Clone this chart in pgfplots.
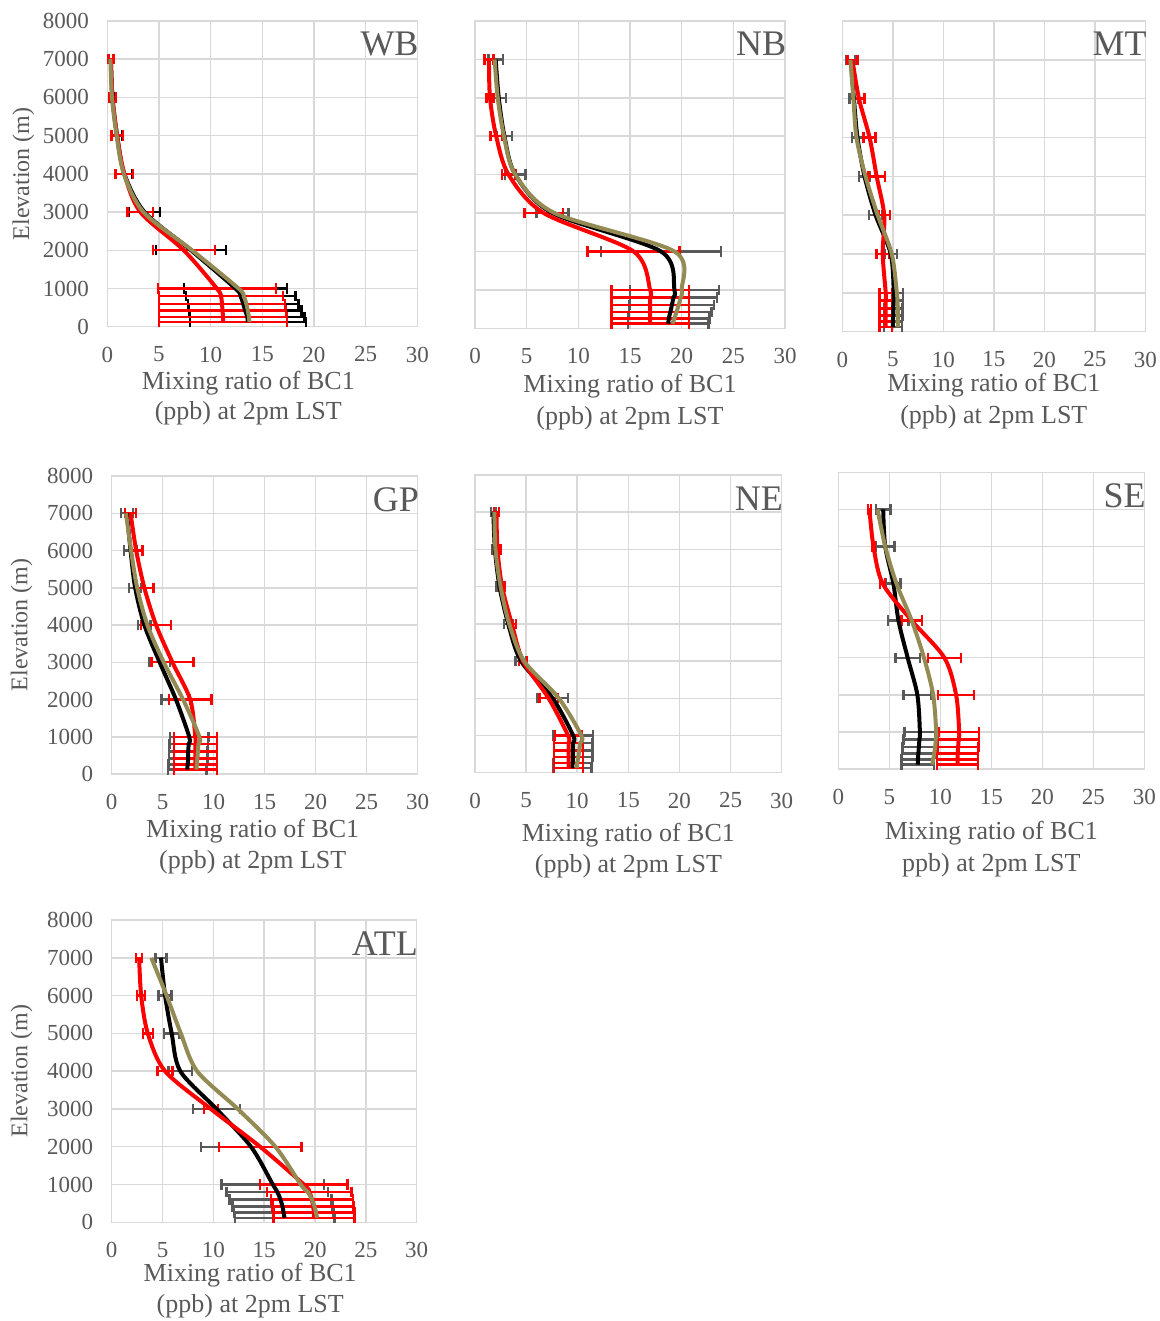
\documentclass[border=0pt]{standalone}
\usepackage{fontspec}
\setmainfont{Liberation Serif}
\usepackage{pgfplots}
\usepackage{pgfplotstable}
\pgfplotsset{compat=1.18}
\definecolor{gridgray}{HTML}{D9D9D9}
\definecolor{txtgray}{HTML}{595959}
\definecolor{tanline}{HTML}{948A54}
\definecolor{errgray}{HTML}{595959}

% columns: elevation, black mean, black sd, red mean, red sd, tan mean
\pgfplotstableread{
y b eb r er t
7000 0.35 0.25 0.35 0.25 0.3
6000 0.5 0.3 0.5 0.35 0.45
5000 0.95 0.5 0.95 0.55 0.9
4000 1.65 0.8 1.65 0.85 1.6
3000 3.6 1.5 3.2 1.25 3.5
2000 8.1 3.4 7.4 3.0 8.2
1000 12.4 5.0 10.6 5.7 12.7
800 12.9 5.3 11.0 6.0 13.2
600 13.15 5.35 11.1 6.1 13.45
420 13.35 5.45 11.15 6.15 13.6
260 13.55 5.55 11.2 6.2 13.7
120 13.6 5.6 11.2 6.2 13.75
}\wb
\pgfplotstableread{
y b eb r er t
7000 2.0 0.7 1.35 0.45 1.9
6000 2.3 0.7 1.45 0.35 2.2
5000 2.85 0.75 2.05 0.55 2.8
4000 3.9 1.0 3.25 0.65 3.9
3000 7.5 1.55 6.65 1.85 7.7
2000 18.0 5.8 15.35 4.45 19.3
1000 19.3 4.3 16.95 3.75 20.0
800 19.2 4.2 16.95 3.75 19.9
600 19.05 4.1 16.95 3.75 19.7
420 18.9 4.0 16.95 3.75 19.5
260 18.75 3.95 16.95 3.75 19.3
120 18.7 3.9 16.95 3.75 19.1
}\nb
\pgfplotstableread{
y b eb r er t
7000 0.85 0.45 1.0 0.5 0.8
6000 1.15 0.45 1.65 0.55 1.1
5000 1.5 0.55 2.7 0.6 1.4
4000 2.2 0.55 3.4 0.8 2.3
3000 3.3 0.65 4.15 0.55 3.5
2000 4.8 0.6 4.0 0.6 4.9
1000 5.1 0.9 4.3 0.6 5.4
800 5.1 0.9 4.3 0.6 5.45
600 5.05 0.9 4.3 0.6 5.5
420 5.05 0.9 4.3 0.6 5.5
260 5.0 0.9 4.3 0.6 5.5
120 5.0 0.9 4.3 0.6 5.5
}\mt
\pgfplotstableread{
y b eb r er t
7000 1.5 0.6 1.85 0.55 1.4
6000 1.85 0.65 2.4 0.6 1.9
5000 2.3 0.6 3.2 0.9 2.5
4000 3.2 0.6 4.35 1.45 3.5
3000 4.7 1.0 5.95 2.05 5.1
2000 6.3 1.4 7.7 2.1 7.0
1000 7.6 1.9 8.2 2.1 8.6
800 7.55 1.9 8.2 2.1 8.5
600 7.5 1.9 8.2 2.1 8.45
420 7.5 1.9 8.2 2.1 8.4
260 7.45 1.9 8.2 2.1 8.35
120 7.4 1.9 8.2 2.1 8.3
}\gp
\pgfplotstableread{
y b eb r er t
7000 1.8 0.25 2.1 0.25 1.9
6000 1.95 0.25 2.2 0.3 2.0
5000 2.4 0.3 2.65 0.3 2.5
4000 3.25 0.4 3.6 0.4 3.35
3000 4.5 0.55 4.7 0.4 4.8
2000 7.6 1.5 7.2 0.9 8.2
1000 9.6 1.95 9.1 1.3 10.4
800 9.6 1.9 9.15 1.4 10.3
600 9.6 1.9 9.15 1.4 10.2
420 9.6 1.9 9.15 1.4 10.1
260 9.55 1.9 9.15 1.4 10.0
120 9.5 1.9 9.15 1.4 10.0
}\ne
\pgfplotstableread{
y b eb r er t
7000 4.4 0.7 3.05 0.15 3.85
6000 4.6 0.9 3.45 0.15 4.6
5000 5.4 0.7 4.35 0.25 5.7
4000 5.9 1.0 7.2 1.0 7.2
3000 6.8 1.2 10.4 1.6 8.4
2000 7.75 1.35 11.55 1.75 9.3
1000 8.0 1.5 11.85 1.95 9.6
800 7.95 1.55 11.8 2.0 9.55
600 7.9 1.6 11.75 2.0 9.5
420 7.85 1.6 11.7 2.0 9.4
260 7.8 1.6 11.7 2.0 9.3
120 7.8 1.6 11.7 2.0 9.2
}\se
\pgfplotstableread{
y b eb r er t
7000 4.85 0.55 2.7 0.3 3.9
6000 5.25 0.65 2.9 0.4 5.4
5000 5.9 0.75 3.55 0.5 6.8
4000 6.75 1.15 5.25 0.75 8.4
3000 10.3 2.3 9.75 0.7 12.4
2000 13.7 4.9 14.6 4.05 16.1
1000 15.85 5.05 18.9 4.3 18.6
800 16.3 5.0 19.45 4.15 19.3
600 16.6 5.0 19.7 4.05 19.7
420 16.8 4.9 19.8 4.0 19.95
260 16.9 4.9 19.9 4.0 20.1
120 17.0 4.9 19.9 4.0 20.2
}\atl

\pgfplotsset{
  panel/.style={
    scale only axis, anchor=north west, clip=false,
    xmin=0, xmax=30, ymin=0, ymax=8000,
    xtick={0,5,...,30}, ytick={0,1000,...,8000},
    grid=major, grid style={draw=gridgray, line width=0.75pt},
    axis line style={draw=gridgray, line width=0.75pt},
    tick style={draw=none},
    scaled y ticks=false,
    /pgf/number format/1000 sep={},
    /pgf/number format/assume math mode=true,
    ticklabel style={font=\fontsize{11.5}{13}\selectfont, text=txtgray},
    xticklabel style={yshift=-6.5pt},
    yticklabel style={xshift=-5.7pt},
  },
  noy/.style={yticklabels={}},
}

\newcommand{\profiles}[2]{%
  \addplot[draw=none, forget plot, error bars/.cd, x dir=both, x explicit,
    error bar style={line width=1.2pt, draw=#2},
    error mark options={rotate=90, line width=1.2pt, mark size=2.6pt, draw=#2}]
    table[x=b, y=y, x error=eb]{#1};
  \addplot[draw=none, forget plot, error bars/.cd, x dir=both, x explicit,
    error bar style={line width=1.2pt, draw=red},
    error mark options={rotate=90, line width=1.2pt, mark size=2.6pt, draw=red}]
    table[x=r, y=y, x error=er]{#1};
  \addplot[black, line width=2pt, smooth] table[x=b, y=y]{#1};
  \addplot[red, line width=2pt, smooth] table[x=r, y=y]{#1};
  \addplot[tanline, line width=2pt, smooth] table[x=t, y=y]{#1};
}
\newcommand{\ptitle}[1]{\node[font=\fontsize{18}{20}\selectfont, text=txtgray, anchor=base east, inner sep=0pt] at ([xshift=0.8pt, yshift=-17.5pt]rel axis cs:1,1) {#1};}
\newcommand{\xlab}[4]{%
  \node[font=\fontsize{13}{15}\selectfont, text=txtgray, anchor=base] at ([xshift=#1, yshift=-#2]rel axis cs:0.5,0) {Mixing ratio of BC1};
  \node[font=\fontsize{13}{15}\selectfont, text=txtgray, anchor=base] at ([xshift=#1, yshift=-#3]rel axis cs:0.5,0) {#4};
}
\newcommand{\ylab}[1]{\node[rotate=90, font=\fontsize{12}{14}\selectfont, text=txtgray] at ([xshift=-#1]rel axis cs:0,0.5) {Elevation (m)};}

\begin{document}
\begin{tikzpicture}
\useasboundingbox (0,0) rectangle (580pt,-660.5pt);

\begin{axis}[panel, at={(53.65pt,-10.5pt)}, width=155pt, height=152.85pt]
\profiles{\wb}{black}
\ptitle{WB}
\xlab{-7pt}{31.5pt}{46.5pt}{(ppb) at 2pm LST}
\ylab{42pt}
\end{axis}

\begin{axis}[panel, noy, at={(237.5pt,-10.5pt)}, width=155pt, height=153.65pt]
\profiles{\nb}{errgray}
\ptitle{NB}
\xlab{0pt}{32pt}{48pt}{(ppb) at 2pm LST}
\end{axis}

\begin{axis}[panel, noy, at={(421.15pt,-10.5pt)}, width=151.5pt, height=155.35pt]
\profiles{\mt}{errgray}
\ptitle{MT}
\xlab{0pt}{30pt}{46pt}{(ppb) at 2pm LST}
\end{axis}

\begin{axis}[panel, at={(55.85pt,-238pt)}, width=153pt, height=149pt]
\profiles{\gp}{errgray}
\ptitle{GP}
\xlab{-6pt}{31.5pt}{47pt}{(ppb) at 2pm LST}
\ylab{45pt}
\end{axis}

\begin{axis}[panel, noy, at={(237.5pt,-237.5pt)}, width=153.35pt, height=148.85pt]
\profiles{\ne}{errgray}
\ptitle{NE}
\xlab{0pt}{34.5pt}{50pt}{(ppb) at 2pm LST}
\end{axis}

\begin{axis}[panel, noy, at={(419.15pt,-236.15pt)}, width=153pt, height=148.35pt]
\profiles{\se}{errgray}
\ptitle{SE}
\xlab{0pt}{35.5pt}{51.5pt}{ppb) at 2pm LST}
\end{axis}

\begin{axis}[panel, at={(55.85pt,-460pt)}, width=152.5pt, height=151.15pt]
\profiles{\atl}{errgray}
\ptitle{ATL}
\xlab{-7pt}{29.5pt}{45pt}{(ppb) at 2pm LST}
\ylab{45pt}
\end{axis}
\end{tikzpicture}
\end{document}
